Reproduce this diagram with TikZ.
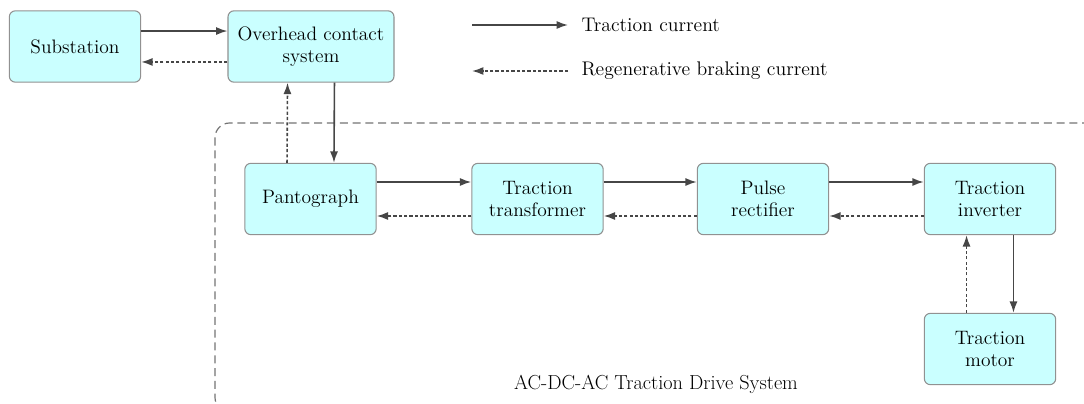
\documentclass[tikz,border=0pt]{standalone}
\usetikzlibrary{arrows.meta}

\definecolor{boxfill}{RGB}{202,255,255}
\definecolor{boxline}{RGB}{145,145,145}
\definecolor{wire}{RGB}{70,70,70}
\definecolor{regionline}{RGB}{115,115,115}

\tikzset{
  every picture/.style={line width=0.75pt},
  block/.style={draw=boxline, fill=boxfill, rounded corners=4.5pt, line width=0.8pt,
    minimum width=98.5pt, minimum height=53.5pt, align=center, inner sep=1pt,
    font=\fontsize{14.6}{17}\selectfont},
  traction/.style={draw=wire, line width=1.2pt, -{Latex[length=8.5pt,width=6pt]}},
  regen/.style={draw=wire, line width=1.2pt, dash pattern=on 2.4pt off 1.6pt,
    -{Latex[length=8.5pt,width=6pt]}},
  legendtext/.style={anchor=west, inner sep=0.75pt, font=\fontsize{14.8}{17}\selectfont},
}

\begin{document}
\begin{tikzpicture}[x=0.75pt,y=0.75pt,yscale=-1,xscale=1]
\useasboundingbox (0,0) rectangle (1084,403);
\clip (0,0) rectangle (1084,403);

% drive system region
\draw [regionline, line width=0.9pt, dash pattern=on 6pt off 3.6pt, rounded corners=11pt]
  (215,123) rectangle (1110,412);
\node (sysname) at (656,384) [font=\fontsize{15.2}{17}\selectfont] {AC-DC-AC Traction Drive System};

% blocks
\node [block] (sub) at (75,46.5) {Substation};
\node [block, minimum width=124.5pt] (ocs) at (311,46.5) {Overhead contact\\system};
\node [block] (pan) at (310.5,199) {Pantograph};
\node [block] (tt) at (537.5,199) {Traction\\transformer};
\node [block] (pr) at (763,199) {Pulse\\rectifier};
\node [block] (ti) at (990,199) {Traction\\inverter};
\node [block] (tm) at (990,349) {Traction\\motor};

% legend
\coordinate (lgA) at (472,25);
\coordinate (lgB) at (568,25);
\coordinate (lgC) at (472,71);
\coordinate (lgD) at (568,71);
\draw [traction] (lgA) -- (lgB);
\draw [regen] (lgD) -- (lgC);
\node [legendtext] (lgtc) at (580,25) {Traction current};
\node [legendtext] (lgrb) at (580,71) {Regenerative braking current};

% traction current
\draw [traction] ([yshift=-11.6pt]sub.east) -- ([yshift=-11.6pt]ocs.west);
\draw [traction] ([xshift=17.6pt]ocs.south) -- ([xshift=17.6pt]pan.north);
\draw [traction] ([yshift=-12.75pt]pan.east) -- ([yshift=-12.75pt]tt.west);
\draw [traction] ([yshift=-12.75pt]tt.east) -- ([yshift=-12.75pt]pr.west);
\draw [traction] ([yshift=-12.75pt]pr.east) -- ([yshift=-12.75pt]ti.west);
\draw [traction] ([xshift=17.6pt]ti.south) -- ([xshift=17.6pt]tm.north);

% regenerative braking current
\draw [regen] ([yshift=11.6pt]ocs.west) -- ([yshift=11.6pt]sub.east);
\draw [regen] ([xshift=-17.6pt]pan.north) -- ([xshift=-17.6pt]ocs.south);
\draw [regen] ([yshift=12.75pt]tt.west) -- ([yshift=12.75pt]pan.east);
\draw [regen] ([yshift=12.75pt]pr.west) -- ([yshift=12.75pt]tt.east);
\draw [regen] ([yshift=12.75pt]ti.west) -- ([yshift=12.75pt]pr.east);
\draw [regen] ([xshift=-17.6pt]tm.north) -- ([xshift=-17.6pt]ti.south);

\end{tikzpicture}
\end{document}
